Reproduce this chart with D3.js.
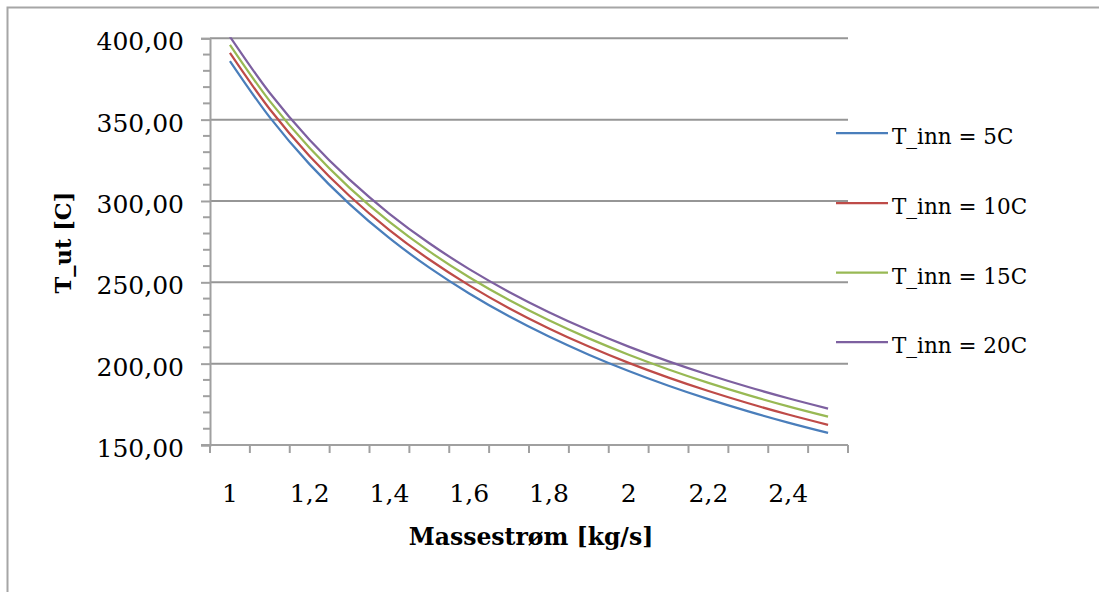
<!DOCTYPE html>
<html>
<head>
<meta charset="utf-8">
<script src="https://cdn.jsdelivr.net/npm/d3@7/dist/d3.min.js"></script>
<style>
  html, body { margin: 0; padding: 0; background: #fff; }
  svg { display: block; }
  text { font-family: "DejaVu Serif", serif; fill: #000; }
</style>
</head>
<body>
<svg id="chart" width="1099" height="592"></svg>
<script>
// ---- Data ----
const categories = ["1","1,1","1,2","1,3","1,4","1,5","1,6","1,7","1,8","1,9","2","2,1","2,2","2,3","2,4","2,5"];
const xTickLabels = ["1","1,2","1,4","1,6","1,8","2","2,2","2,4"];
const yTicks = [150, 200, 250, 300, 350, 400];
const seriesNames = ["T_inn = 5C", "T_inn = 10C", "T_inn = 15C", "T_inn = 20C"];
const t5  = [386.00, 351.36, 322.50, 298.08, 277.14, 259.00, 243.13, 229.12, 216.67, 205.53, 195.50, 186.43, 178.18, 170.65, 163.75, 157.40];
const t10 = [391.00, 356.36, 327.50, 303.08, 282.14, 264.00, 248.13, 234.12, 221.67, 210.53, 200.50, 191.43, 183.18, 175.65, 168.75, 162.40];
const t15 = [396.00, 361.36, 332.50, 308.08, 287.14, 269.00, 253.13, 239.12, 226.67, 215.53, 205.50, 196.43, 188.18, 180.65, 173.75, 167.40];
const t20 = [401.00, 366.36, 337.50, 313.08, 292.14, 274.00, 258.13, 244.12, 231.67, 220.53, 210.50, 201.43, 193.18, 185.65, 178.75, 172.40];
const colors = ["#4A7EBB", "#BE4B48", "#98B954", "#7D60A0"];
const xTitle = "Massestrøm [kg/s]";
const yTitle = "T_ut [C]";

const seriesValues = [t5, t10, t15, t20];

const svg = d3.select("#chart");
const W = 1099, H = 592;
svg.append("rect").attr("width", W).attr("height", H).attr("fill", "#fff");

// outer chart border (extends beyond viewport right/bottom)
svg.append("rect")
  .attr("x", 7.5).attr("y", 7.5)
  .attr("width", 1200).attr("height", 700)
  .attr("fill", "none").attr("stroke", "#a6a6a6").attr("stroke-width", 2);

const plot = { left: 210, right: 848, top: 38.3, bottom: 445 };

const x = d3.scaleBand().domain(categories).range([plot.left, plot.right]).padding(0);
const y = d3.scaleLinear().domain([150, 400]).range([plot.bottom, plot.top]);

const gridColor = "#969696";
const axisColor = "#a0a0a0";

// gridlines
svg.append("g").selectAll("line")
  .data(yTicks.filter(d => d > 150))
  .join("line")
  .attr("x1", plot.left).attr("x2", plot.right)
  .attr("y1", d => y(d)).attr("y2", d => y(d))
  .attr("stroke", gridColor).attr("stroke-width", 2);

// Y axis
const yAxis = d3.axisLeft(y).tickValues(yTicks).tickSize(9).tickPadding(0).tickFormat("");
const gy = svg.append("g").attr("transform", `translate(${plot.left},0)`).call(yAxis);
gy.select(".domain").attr("stroke", axisColor).attr("stroke-width", 2);
gy.selectAll(".tick line").attr("stroke", axisColor).attr("stroke-width", 2);

// minor y ticks
const minor = d3.range(150, 401, 10).filter(v => v % 50 !== 0);
svg.append("g").selectAll("line").data(minor).join("line")
  .attr("x1", plot.left - 7).attr("x2", plot.left)
  .attr("y1", d => y(d)).attr("y2", d => y(d))
  .attr("stroke", axisColor).attr("stroke-width", 2);

// Y tick labels
const fmt = v => d3.format(".2f")(v).replace(".", ",");
svg.append("g").selectAll("text").data(yTicks).join("text")
  .attr("x", 184).attr("y", d => y(d) + 12)
  .attr("text-anchor", "end")
  .style("font-size", "25px")
  .text(d => fmt(d));

// X axis line and ticks at category boundaries
svg.append("line")
  .attr("x1", plot.left - 9).attr("x2", plot.right)
  .attr("y1", plot.bottom).attr("y2", plot.bottom)
  .attr("stroke", axisColor).attr("stroke-width", 2);
const boundaries = categories.map(c => x(c)).concat([x(categories[categories.length - 1]) + x.bandwidth()]);
svg.append("g").selectAll("line").data(boundaries).join("line")
  .attr("x1", d => d).attr("x2", d => d)
  .attr("y1", plot.bottom).attr("y2", plot.bottom + 8)
  .attr("stroke", axisColor).attr("stroke-width", 2);

// X tick labels
svg.append("g").selectAll("text").data(xTickLabels).join("text")
  .attr("x", d => x(d) + x.bandwidth() / 2)
  .attr("y", 502)
  .attr("text-anchor", "middle")
  .style("font-size", "25px")
  .text(d => d);

// clip
svg.append("clipPath").attr("id", "clip")
  .append("rect")
  .attr("x", plot.left).attr("y", plot.top - 1)
  .attr("width", plot.right - plot.left).attr("height", plot.bottom - plot.top + 1);

// lines
const line = d3.line()
  .x((d, i) => x(categories[i]) + x.bandwidth() / 2)
  .y(d => y(d))
  .curve(d3.curveCatmullRom.alpha(0.5));

svg.append("g").attr("clip-path", "url(#clip)")
  .selectAll("path").data(seriesValues).join("path")
  .attr("d", d => line(d))
  .attr("fill", "none")
  .attr("stroke", (d, i) => colors[i])
  .attr("stroke-width", 2.25)
  .attr("stroke-linejoin", "round");

// legend
const legendY = [133, 203, 272.5, 342];
const lg = svg.append("g");
seriesNames.forEach((name, i) => {
  lg.append("line")
    .attr("x1", 836).attr("x2", 888)
    .attr("y1", legendY[i]).attr("y2", legendY[i])
    .attr("stroke", colors[i]).attr("stroke-width", 2.25);
  lg.append("text")
    .attr("x", 892).attr("y", legendY[i] + 11)
    .style("font-size", "21.5px")
    .text(name);
});

// axis titles
svg.append("text")
  .attr("x", (plot.left + plot.right) / 2 + 2).attr("y", 545)
  .attr("text-anchor", "middle")
  .style("font-size", "23.5px").style("font-weight", "bold")
  .text(xTitle);

svg.append("text")
  .attr("transform", `translate(71,242.5) rotate(-90)`)
  .attr("text-anchor", "middle")
  .style("font-size", "22.5px").style("font-weight", "bold")
  .text(yTitle);
</script>
</body>
</html>
